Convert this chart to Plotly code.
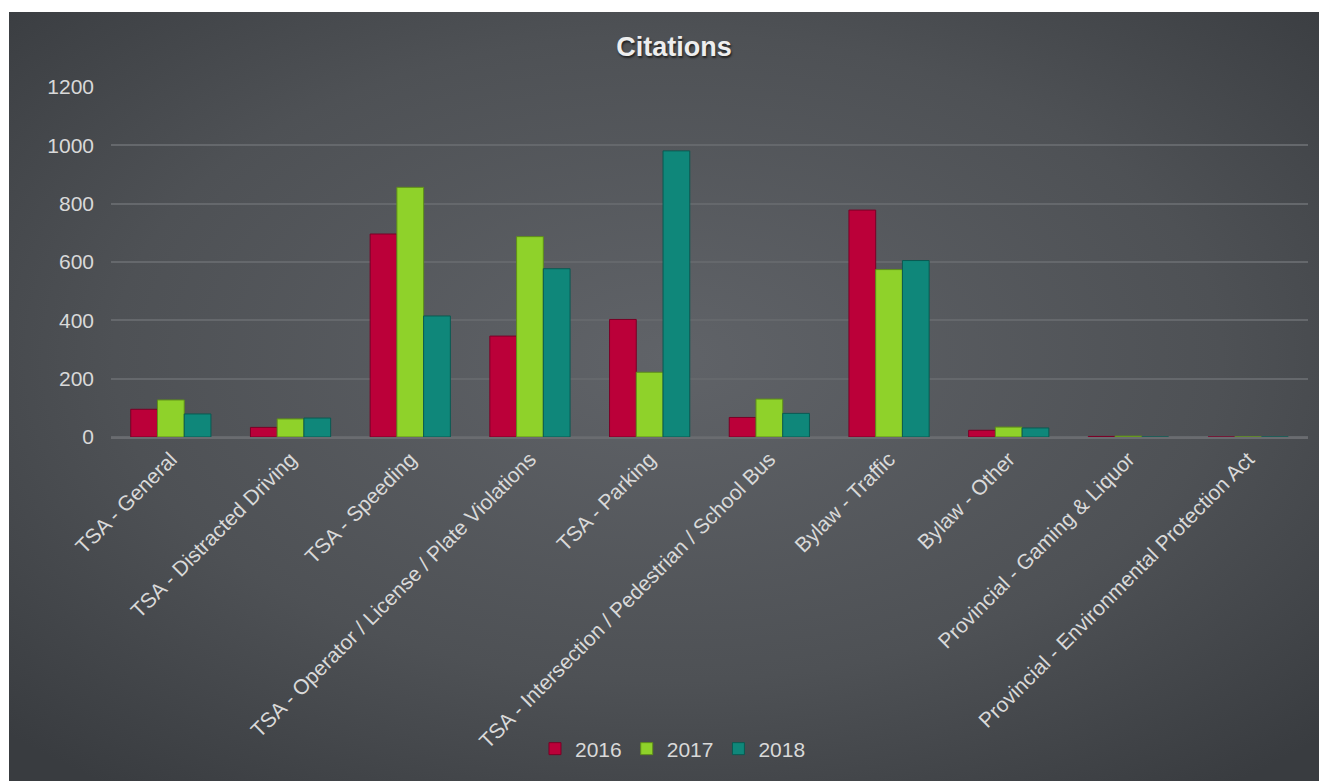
import base64
import plotly.graph_objects as go

categories = [
    "TSA - General",
    "TSA - Distracted Driving",
    "TSA - Speeding",
    "TSA - Operator / License / Plate Violations",
    "TSA - Parking",
    "TSA - Intersection / Pedestrian / School Bus",
    "Bylaw - Traffic",
    "Bylaw - Other",
    "Provincial - Gaming & Liquor",
    "Provincial - Environmental Protection Act",
]
v2016 = [95, 33, 696, 346, 403, 67, 778, 23, 2, 0]
v2017 = [127, 62, 856, 687, 222, 130, 574, 34, 3, 0]
v2018 = [79, 65, 415, 577, 981, 81, 605, 31, 0, 0]
years = ["2016", "2017", "2018"]
colors = ["#bb0039", "#8fd22a", "#0f877a"]
lines = ["#7a0026", "#5f8f1a", "#0a5a52"]
y_ticks = [0, 200, 400, 600, 800, 1000, 1200]

# page body has an 8px margin, so the figure starts at page (8, 8)
W, H = 1319, 773
L, R, T, B = 103, 19, 79, 344
pw, ph = W - L - R, H - T - B

fig = go.Figure()
for name, vals, c, lc in zip(years, [v2016, v2017, v2018], colors, lines):
    fig.add_trace(go.Bar(
        name=name, x=categories, y=vals,
        marker=dict(color=c, line=dict(color=lc, width=1)),
    ))

svg = (
    '<svg xmlns="http://www.w3.org/2000/svg" width="1318" height="769" '
    'preserveAspectRatio="none" viewBox="0 0 1318 769">'
    '<defs><radialGradient id="g" cx="0.5" cy="0.45" r="0.7">'
    '<stop offset="0" stop-color="#606368"/>'
    '<stop offset="0.6" stop-color="#4e5155"/>'
    '<stop offset="1" stop-color="#393c40"/>'
    '</radialGradient></defs>'
    '<rect width="1318" height="769" fill="url(#g)"/></svg>'
)
src = "data:image/svg+xml;base64," + base64.b64encode(svg.encode()).decode()

# dark panel: figure pixels (1, 4) to (W, H)
x0 = (1 - L) / pw
x1 = (W - L) / pw
y_top = (H - B - 4) / ph
y_bot = (H - B - H) / ph

fig.add_layout_image(dict(
    source=src, xref="paper", yref="paper",
    x=x0, y=y_top, sizex=x1 - x0, sizey=y_top - y_bot,
    xanchor="left", yanchor="top", sizing="stretch", layer="below",
))

txt = "#d9d9d9"
fig.update_layout(
    width=W, height=H,
    margin=dict(l=L, r=R, t=T, b=B, autoexpand=False),
    paper_bgcolor="white",
    plot_bgcolor="rgba(0,0,0,0)",
    barmode="group", bargap=0.33, bargroupgap=0,
    font=dict(family="Liberation Sans, Arial, sans-serif", size=21, color=txt),
    title=dict(
        text="<b>Citations</b>", x=(674 - 8) / W, xref="container",
        y=(H - 39) / H, yref="container", xanchor="center", yanchor="middle",
        font=dict(size=27, color="#eeeeee", shadow="1px 2px 2px #222"),
    ),
    showlegend=True,
    legend=dict(
        orientation="h", x=0.4695, xanchor="center", y=(429 - 741) / ph,
        yanchor="middle", font=dict(size=21, color=txt),
        bgcolor="rgba(0,0,0,0)", itemwidth=30, traceorder="normal",
    ),
    xaxis=dict(
        tickangle=-45, showgrid=False, showline=True,
        linecolor="#6a6c70", linewidth=1.5, ticks="",
        tickfont=dict(size=21, color=txt),
    ),
    yaxis=dict(
        range=[0, 1200], tickvals=y_ticks, showgrid=True,
        gridcolor="#65686c", gridwidth=1.5, zeroline=True,
        zerolinecolor="#65686c", zerolinewidth=1.5, showline=False,
        ticks="", tickfont=dict(size=21, color=txt), ticklabelstandoff=16,
    ),
)

fig.write_html("out.html")
